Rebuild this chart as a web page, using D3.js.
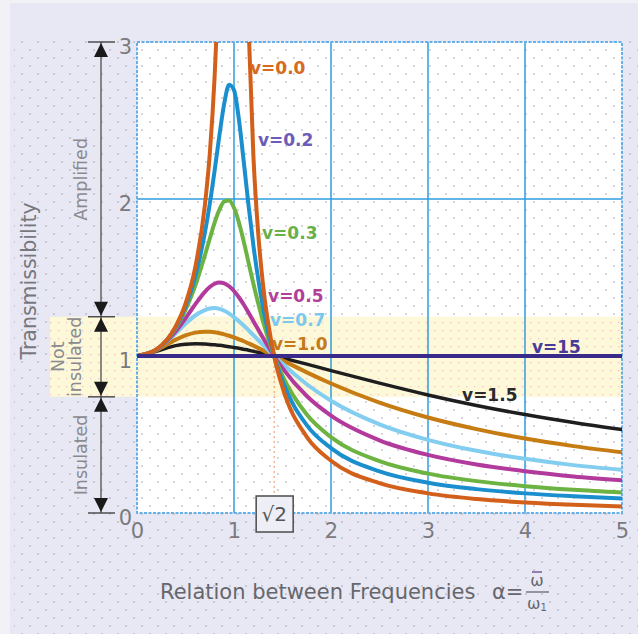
<!DOCTYPE html>
<html><head><meta charset="utf-8">
<script src="https://cdn.jsdelivr.net/npm/d3@7"></script>
<style>
html,body{margin:0;padding:0;background:#e8e8f4;}
svg{display:block;}
</style></head>
<body>
<svg id="chart" width="638" height="634"></svg>
<script>
// ---- data ----
const xs = [0,0.2,0.4,0.5,0.6,0.7,0.75,0.8,0.85,0.9,0.95,1.0,1.05,1.1,1.15,1.2,1.3,1.414,1.5,1.75,2,2.5,3,3.5,4,4.5,5];
const t02 = [1,1.041,1.184,1.314,1.505,1.785,1.968,2.180,2.407,2.611,2.727,2.693,2.509,2.241,1.959,1.704,1.305,1,0.841,0.560,0.413,0.265,0.193,0.152,0.125,0.107,0.093];
const t03 = [1,1.041,1.177,1.293,1.447,1.642,1.747,1.849,1.933,1.985,1.991,1.944,1.852,1.730,1.595,1.460,1.218,1,0.873,0.627,0.483,0.330,0.251,0.203,0.171,0.148,0.131];
const t05 = [1,1.040,1.158,1.240,1.329,1.409,1.440,1.460,1.468,1.463,1.444,1.414,1.374,1.328,1.276,1.222,1.114,1,0.923,0.745,0.620,0.463,0.370,0.309,0.266,0.233,0.208];
const t07 = [1,1.040,1.145,1.205,1.258,1.292,1.302,1.305,1.300,1.288,1.270,1.248,1.222,1.194,1.164,1.133,1.070,1,0.950,0.820,0.715,0.565,0.466,0.396,0.345,0.305,0.275];
const t10 = [1,1.036,1.104,1.131,1.149,1.155,1.154,1.151,1.145,1.138,1.129,1.118,1.106,1.094,1.080,1.066,1.036,1,0.973,0.896,0.825,0.703,0.608,0.534,0.474,0.426,0.387];
const t15 = [1,1.030,1.066,1.075,1.078,1.076,1.074,1.071,1.068,1.064,1.059,1.054,1.049,1.043,1.037,1.030,1.017,1,0.987,0.948,0.907,0.827,0.752,0.685,0.627,0.576,0.531];
const x00L = [0,0.2,0.4,0.5,0.6,0.7,0.75,0.8,0.82,0.85];
const t00L = [1,1.042,1.190,1.333,1.563,1.961,2.286,2.778,3.053,3.604];
const x00R = [1.15,1.2,1.25,1.3,1.414,1.5,1.75,2,2.5,3,3.5,4,4.5,5];
const t00R = [3.101,2.273,1.778,1.449,1,0.8,0.485,0.333,0.190,0.125,0.089,0.067,0.052,0.042];
const x15 = [0,5];
const t15flat = [1,1];

const labelText = ["v=0.0","v=0.2","v=0.3","v=0.5","v=0.7","v=1.0","v=1.5","v=15"];
const labelX = [1.165,1.247,1.289,1.351,1.371,1.392,3.351,4.072];
const labelY = [2.834,2.376,1.783,1.382,1.229,1.076,0.752,1.057];

const xTicks = [0,1,2,3,4,5];
const yTicks = [0,1,2,3];
const zoneBounds = [3,1.25,0.74,0];
const zoneNames = [["Amplified"],["Not","insulated"],["Insulated"]];

// ---- layout ----
const svg = d3.select("#chart");
const W = 638, H = 634;
const x = d3.scaleLinear().domain([0,5]).range([137,622]);
const y = d3.scaleLinear().domain([0,3]).range([513,42]);
const FONT = "'DejaVu Sans',sans-serif";

const defs = svg.append("defs");
const pd = defs.append("pattern").attr("id","dots").attr("patternUnits","userSpaceOnUse")
  .attr("x",20).attr("y",40).attr("width",16).attr("height",16);
pd.append("rect").attr("x",1.3).attr("y",1.3).attr("width",1.4).attr("height",1.4).attr("fill","#a9a9b6");
pd.append("rect").attr("x",9.3).attr("y",9.3).attr("width",1.4).attr("height",1.4).attr("fill","#a9a9b6");
const py = defs.append("pattern").attr("id","ydots").attr("patternUnits","userSpaceOnUse")
  .attr("x",0).attr("y",0).attr("width",8).attr("height",8);
py.append("rect").attr("width",8).attr("height",8).attr("fill","#fcf8d8");
py.append("rect").attr("x",2).attr("y",2).attr("width",1.2).attr("height",1.2).attr("fill","#f2c0cc");
defs.append("clipPath").attr("id","plotclip").append("rect")
  .attr("x",x(0)).attr("y",y(3)).attr("width",x(5)-x(0)).attr("height",y(0)-y(3));

// background
svg.append("rect").attr("width",W).attr("height",H).attr("fill","#f1f1f6");
svg.append("rect").attr("x",10).attr("y",3).attr("width",W-10).attr("height",H-3).attr("fill","#e8e8f4");
svg.append("rect").attr("x",14).attr("y",36).attr("width",W-14).attr("height",H-36).attr("fill","url(#dots)");

// plot area
svg.append("rect").attr("x",x(0)).attr("y",y(3)).attr("width",x(5)-x(0)).attr("height",y(0)-y(3)).attr("fill","#ffffff");
svg.append("rect").attr("x",x(0)).attr("y",y(3)).attr("width",x(5)-x(0)).attr("height",y(0)-y(3)).attr("fill","url(#dots)");

// not-insulated band
svg.append("rect").attr("x",50).attr("y",y(zoneBounds[1])).attr("width",x(5)-50)
  .attr("height",y(zoneBounds[2])-y(zoneBounds[1])).attr("fill","url(#ydots)");

// grid
const grid = svg.append("g");
grid.selectAll("line.v").data(xTicks.filter(d=>d>0&&d<5)).join("line")
  .attr("x1",d=>x(d)).attr("x2",d=>x(d)).attr("y1",y(3)).attr("y2",y(0))
  .attr("stroke","#2f9de0").attr("stroke-width",1.5);
grid.selectAll("line.h").data(yTicks.filter(d=>d>0&&d<3)).join("line")
  .attr("x1",x(0)).attr("x2",x(5)).attr("y1",d=>y(d)).attr("y2",d=>y(d))
  .attr("stroke","#2f9de0").attr("stroke-width",1.5);
// border
svg.append("rect").attr("x",x(0)).attr("y",y(3)).attr("width",x(5)-x(0)).attr("height",y(0)-y(3))
  .attr("fill","none").attr("stroke","#66b0ea").attr("stroke-width",2).attr("stroke-dasharray","3,1.5");

// sqrt2 dotted marker
svg.append("line").attr("x1",x(Math.SQRT2)).attr("x2",x(Math.SQRT2)).attr("y1",y(1)).attr("y2",y(0))
  .attr("stroke","#f4a477").attr("stroke-width",1.2).attr("stroke-dasharray","2,3");

// curves
const line = d3.line().x(d=>x(d[0])).y(d=>y(d[1])).curve(d3.curveMonotoneX);
const series = [
  {xv:xs, yv:t15, c:"#1e1e1e", w:3.5},
  {xv:xs, yv:t10, c:"#c67c12", w:4},
  {xv:xs, yv:t07, c:"#82cdf0", w:4},
  {xv:xs, yv:t05, c:"#b23a9c", w:4},
  {xv:xs, yv:t03, c:"#6db342", w:4},
  {xv:xs, yv:t02, c:"#1b8fce", w:4},
  {xv:x00L, yv:t00L, c:"#d2601a", w:4},
  {xv:x00R, yv:t00R, c:"#d2601a", w:4},
  {xv:x15, yv:t15flat, c:"#3a2a8a", w:4}
];
const cg = svg.append("g").attr("clip-path","url(#plotclip)");
series.forEach(s=>{
  cg.append("path").datum(s.xv.map((v,i)=>[v,s.yv[i]]))
    .attr("d",line).attr("fill","none").attr("stroke",s.c).attr("stroke-width",s.w)
    .attr("stroke-linejoin","round").attr("stroke-linecap","round");
});

// curve labels
const labelColors = ["#d86a20","#6c5cb8","#6ab04a","#b0409a","#7ac8ee","#c47a18","#2a2a2a","#4a3a98"];
svg.append("g").selectAll("text").data(labelText).join("text")
  .attr("x",(d,i)=>x(labelX[i])).attr("y",(d,i)=>y(labelY[i])).attr("dy","0.36em")
  .attr("font-family","'DejaVu Sans',sans-serif").attr("font-weight","bold").attr("font-size",17)
  .attr("fill",(d,i)=>labelColors[i]).text(d=>d);

// axes
const xAxis = svg.append("g").attr("transform",`translate(0,${y(0)})`)
  .call(d3.axisBottom(x).tickValues(xTicks).tickSize(0).tickPadding(10).tickFormat(d3.format("d")));
xAxis.select(".domain").remove();
xAxis.selectAll("text").attr("font-family",FONT).attr("font-size",21).attr("fill","#7a7a80");
const yAxis = svg.append("g").attr("transform",`translate(${x(0)},0)`)
  .call(d3.axisLeft(y).tickValues(yTicks).tickSize(0).tickPadding(5).tickFormat(d3.format("d")));
yAxis.select(".domain").remove();
yAxis.selectAll("text").attr("font-family",FONT).attr("font-size",21).attr("fill","#7a7a80").attr("dy","0.55em");

// sqrt2 box
const bx = x(Math.SQRT2);
svg.append("rect").attr("x",bx-18).attr("y",496).attr("width",37).attr("height",36)
  .attr("fill","#eeeef6").attr("stroke","#555").attr("stroke-width",1.6);
svg.append("text").attr("x",bx).attr("y",514).attr("dy","0.36em").attr("text-anchor","middle")
  .attr("font-family",FONT).attr("font-size",20).attr("fill","#555").text("√2");

// zone arrows
const ax = 101, ag = svg.append("g");
ag.append("line").attr("x1",ax).attr("x2",ax).attr("y1",y(3)).attr("y2",y(0)).attr("stroke","#6b6b6b").attr("stroke-width",1.6);
zoneBounds.forEach(b=>{
  ag.append("line").attr("x1",ax-13).attr("x2",ax+14).attr("y1",y(b)).attr("y2",y(b)).attr("stroke","#444").attr("stroke-width",1.4);
});
for(let i=0;i<3;i++){
  const top = y(zoneBounds[i]), bot = y(zoneBounds[i+1]);
  ag.append("path").attr("d",`M${ax},${top+1}L${ax-7},${top+15}L${ax+7},${top+15}Z`).attr("fill","#1a1a1a");
  ag.append("path").attr("d",`M${ax},${bot-1}L${ax-7},${bot-15}L${ax+7},${bot-15}Z`).attr("fill","#1a1a1a");
}
const zoneCenters = [ (y(3)+y(1.25))/2 + 0, (y(1.25)+y(0.74))/2, (y(0.74)+y(0))/2 ];
zoneNames.forEach((lines,i)=>{
  const t = svg.append("text").attr("transform",`translate(${lines.length>1?67:81},${zoneCenters[i]}) rotate(-90)`)
    .attr("text-anchor","middle").attr("font-family",FONT).attr("font-size",17.5).attr("fill","#8a8a90");
  lines.forEach((ln,j)=>{
    t.append("tspan").attr("x",0).attr("dy", j===0 ? (lines.length>1?"-0.15em":"0.35em") : "0.95em").text(ln);
  });
});

// axis titles
svg.append("text").attr("transform",`translate(36,281) rotate(-90)`).attr("text-anchor","middle")
  .attr("font-family",FONT).attr("font-size",20.5).attr("fill","#77777d").text("Transmissibility");
svg.append("text").attr("x",160).attr("y",599).attr("font-family",FONT).attr("font-size",21)
  .attr("fill","#66666c").text("Relation between Frequencies");
svg.append("text").attr("x",492).attr("y",599).attr("font-family",FONT).attr("font-size",21)
  .attr("fill","#66666c").text("α=");
svg.append("text").attr("x",537).attr("y",586).attr("text-anchor","middle").attr("font-family",FONT).attr("font-size",16)
  .attr("fill","#66666c").text("ω");
svg.append("line").attr("x1",532).attr("x2",542).attr("y1",572).attr("y2",572).attr("stroke","#7a5a9a").attr("stroke-width",1.5);
svg.append("line").attr("x1",526).attr("x2",549).attr("y1",592).attr("y2",592).attr("stroke","#66666c").attr("stroke-width",1.3);
const den = svg.append("text").attr("x",537).attr("y",609).attr("text-anchor","middle").attr("font-family",FONT).attr("font-size",16)
  .attr("fill","#66666c");
den.append("tspan").text("ω");
den.append("tspan").attr("font-size",10).attr("dy",2).text("1");
</script>
</body></html>
